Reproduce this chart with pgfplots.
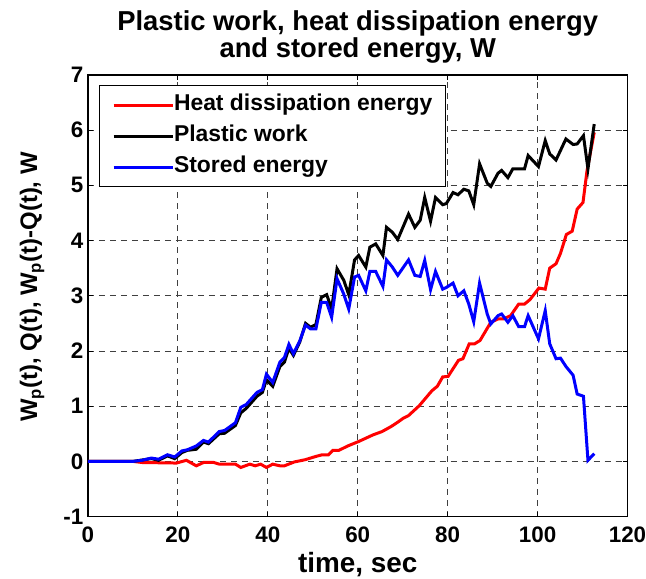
\documentclass[border=0pt]{standalone}
\usepackage{fontspec}
\setmainfont{Liberation Sans}
\usepackage{pgfplots}
\usepackage{pgfplotstable}
\pgfplotsset{compat=1.18}

% heat dissipation energy Q(t)
\pgfplotstableread{
t Q
0 0
10 0
12 -0.02
19.7 -0.03
21.9 0.02
24.1 -0.08
25.7 -0.02
28 -0.02
29.2 -0.05
32.8 -0.05
34 -0.11
36 -0.05
37.2 -0.08
38.4 -0.05
39.7 -0.11
41.1 -0.05
42.7 -0.08
43.7 -0.08
45.9 -0.01
48.3 0.03
50.7 0.09
52.1 0.12
53.5 0.12
54.5 0.2
55.8 0.2
57.8 0.28
60.2 0.36
61.8 0.42
63.4 0.48
65.4 0.54
67.4 0.63
68.9 0.71
70.1 0.78
71.3 0.83
73.7 1.01
76.5 1.28
77.7 1.36
78.9 1.53
80.1 1.54
82.4 1.83
83.4 1.86
84.8 2.13
86.0 2.13
87.2 2.19
89.6 2.52
91.2 2.58
92.4 2.58
94.0 2.64
95.8 2.85
97.1 2.85
98.3 2.93
100.3 3.14
101.7 3.12
102.7 3.50
104.1 3.58
105.1 3.77
106.4 4.11
107.7 4.17
108.8 4.57
110.1 4.69
111.0 5.27
112.6 5.96
}\heattab

% plastic work Wp(t)
\pgfplotstableread{
t W
0 0
10 0
14.1 0.05
15.7 0.02
17.7 0.10
19.3 0.05
20.9 0.16
22.1 0.20
24.1 0.22
25.7 0.35
26.8 0.32
29.2 0.50
30.4 0.51
32.8 0.65
34.0 0.88
35.2 0.96
37.6 1.18
38.8 1.25
39.7 1.48
41.1 1.36
42.7 1.72
43.7 1.80
44.7 2.05
45.7 1.92
47.1 2.16
48.4 2.50
49.5 2.43
50.7 2.48
51.9 2.97
53.1 3.02
54.2 2.76
55.4 3.49
56.9 3.28
58.0 3.02
59.3 3.65
60.2 3.73
61.8 3.52
62.7 3.88
64.0 3.94
65.6 3.73
66.4 4.24
67.7 4.15
68.9 4.02
71.3 4.48
72.7 4.24
73.9 4.37
74.9 4.78
76.2 4.35
77.3 4.78
78.9 4.65
79.7 4.67
81.2 4.87
82.3 4.83
83.6 4.93
84.7 4.90
85.8 4.65
87.1 5.39
88.8 5.04
89.6 4.98
91.2 5.22
92.0 5.27
93.4 5.14
94.5 5.30
97.1 5.30
97.9 5.54
100.2 5.34
101.7 5.81
102.7 5.57
104.1 5.46
106.3 5.84
107.9 5.74
108.8 5.75
110.2 5.90
111.2 5.30
112.6 6.11
}\worktab

% stored energy Wp(t)-Q(t)
\pgfplotstableread{
t S
0 0
10 0
12 0.02
14.1 0.06
15.7 0.04
17.7 0.12
19.3 0.08
20.9 0.19
22.1 0.21
24.1 0.28
25.7 0.38
26.8 0.35
29.2 0.54
30.4 0.56
32.8 0.70
34.0 0.98
35.2 1.03
37.6 1.25
38.8 1.30
39.7 1.58
41.1 1.43
42.7 1.80
43.7 1.88
44.7 2.12
45.7 1.95
47.1 2.18
48.4 2.47
49.5 2.40
50.7 2.40
51.9 2.88
53.1 2.88
54.2 2.61
55.4 3.31
56.9 3.03
58.0 2.76
59.3 3.34
60.2 3.37
61.8 3.09
62.7 3.44
64.0 3.44
65.6 3.17
66.4 3.65
67.7 3.52
68.9 3.37
71.3 3.65
72.7 3.37
73.9 3.35
74.9 3.64
76.2 3.11
77.3 3.44
78.9 3.12
79.7 3.15
81.2 3.23
82.3 3.00
83.6 3.09
84.7 2.85
85.8 2.53
87.1 3.23
88.8 2.67
89.6 2.49
91.2 2.64
92.0 2.67
93.4 2.52
94.5 2.64
95.8 2.44
97.1 2.44
97.9 2.64
100.2 2.22
101.7 2.73
102.7 2.13
104.1 1.86
105.1 1.87
106.3 1.72
107.9 1.56
108.8 1.22
110.2 1.18
111.2 0.02
112.6 0.14
}\storedtab

\begin{document}
\begin{tikzpicture}
\begin{axis}[
  at={(0,0)}, anchor=south west,
  width=540bp, height=442bp, scale only axis,
  xmin=0, xmax=120, ymin=-1, ymax=7,
  xtick={0,20,...,120}, ytick={-1,0,...,7},
  tick align=inside, major tick length=5bp,
  tick style={black, line width=0.9bp},
  axis line style={black, line width=1.2bp},
  grid=major,
  major grid style={black!75, line width=0.9bp, dash pattern=on 6bp off 5bp},
  /pgf/number format/assume math mode=true,
  tick label style={font=\fontsize{22.5}{26}\selectfont\bfseries},
  xticklabel style={yshift=-7bp},
  yticklabel style={xshift=-1bp},
  xlabel={time, sec},
  xlabel style={font=\fontsize{28}{30}\selectfont\bfseries,
    at={(axis description cs:0.5,-0.1086)}, anchor=center},
  ylabel={W\textsubscript{p}(t), Q(t), W\textsubscript{p}(t)-Q(t), W},
  ylabel style={font=\fontsize{24}{28}\selectfont\bfseries,
    at={(axis description cs:-0.1037,0.52)}, anchor=center},
  title={Plastic work, heat dissipation energy\\and stored energy, W},
  title style={font=\fontsize{27.5}{28}\selectfont\bfseries, align=center,
    inner sep=0pt, at={(axis description cs:0.5,1)}, anchor=south, yshift=5bp},
  legend cell align=left,
  legend image code/.code={\draw[#1] (0bp,0bp) -- (59bp,0bp);},
  legend style={at={(0.0196,0.977)}, anchor=north west,
    draw=black, line width=1.1bp, fill=white,
    font=\fontsize{23}{26}\selectfont\bfseries,
    inner xsep=13bp, inner ysep=9bp, row sep=10bp,
    nodes={inner sep=0pt, text height=16bp, text depth=5bp},
    /tikz/every even column/.append style={column sep=7bp}},
]
\addplot[red, line width=3bp] table[x=t, y=Q] {\heattab};
\addlegendentry{Heat dissipation energy}
\addplot[black, line width=3bp] table[x=t, y=W] {\worktab};
\addlegendentry{Plastic work}
\addplot[blue, line width=3bp] table[x=t, y=S] {\storedtab};
\addlegendentry{Stored energy}
\end{axis}
\pgfresetboundingbox
\path[use as bounding box] (-88bp,-62bp) rectangle (558.5bp,517bp);
\end{tikzpicture}
\end{document}
